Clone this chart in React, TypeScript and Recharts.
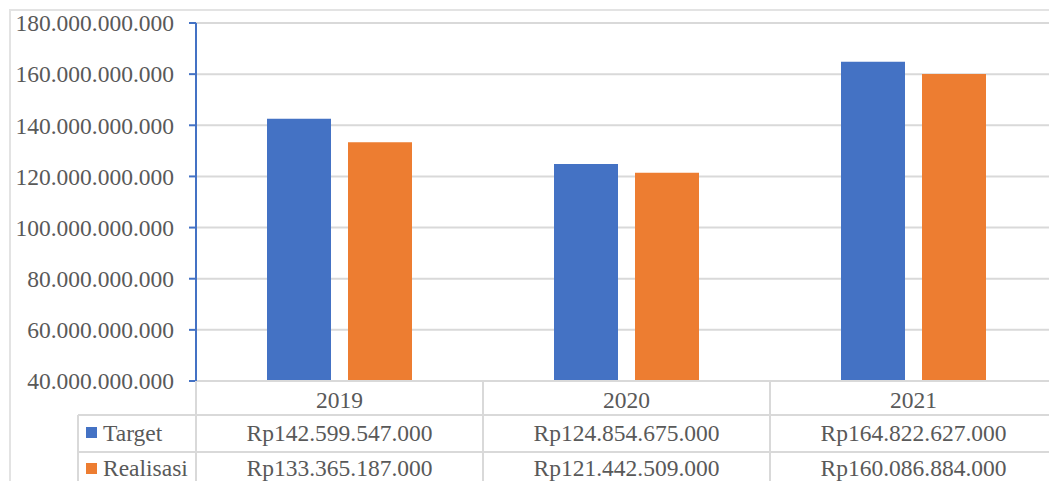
import React from "react";
import { BarChart, Bar, XAxis, YAxis, CartesianGrid } from "recharts";

const years = ["2019", "2020", "2021"];
const target = [142599547000, 124854675000, 164822627000];
const realisasi = [133365187000, 121442509000, 160086884000];
const yTicks = [40e9, 60e9, 80e9, 100e9, 120e9, 140e9, 160e9, 180e9];
const seriesNames = ["Target", "Realisasi"];

const data = years.map((y, i) => ({ year: y, target: target[i], realisasi: realisasi[i] }));

const BLUE = "#4472C4";
const ORANGE = "#ED7D31";
const TEXT = "#595959";
const GRID = "#d9d9d9";
const FONT = "Liberation Serif";
const FS = 23.5;
const textStyle = { fontFamily: FONT, fontSize: FS };

const CHART_W = 1060;
const CHART_H = 481;
const PLOT_LEFT = 196;
const PLOT_RIGHT_MARGIN = 3;
const PLOT_TOP = 23;
const XAXIS_H = 100;
const PLOT_W = CHART_W - PLOT_LEFT - PLOT_RIGHT_MARGIN;
const BAND = PLOT_W / years.length;

const fmtDots = (v: number) => Math.round(v).toString().replace(/\B(?=(\d{3})+(?!\d))/g, ".");

const TableTick = (props: any) => {
  const { x, y, payload, index } = props;
  const i = index ?? years.indexOf(payload.value);
  const left = x - BAND / 2;
  const right = x + BAND / 2;
  const row1 = y + 34;
  const row2 = y + 71;
  const bottom = y + 110;
  const vals = [target[i], realisasi[i]];
  return (
    <g>
      <text x={x} y={y + 27} textAnchor="middle" fill={TEXT} style={textStyle}>
        {payload.value}
      </text>
      <line x1={right} y1={y} x2={right} y2={bottom} stroke={GRID} strokeWidth={2} />
      <line x1={left} y1={row1} x2={right} y2={row1} stroke={GRID} strokeWidth={2} />
      <line x1={left} y1={row2} x2={right} y2={row2} stroke={GRID} strokeWidth={2} />
      <text x={x} y={row1 + 26} textAnchor="middle" fill={TEXT} style={textStyle}>
        {"Rp" + fmtDots(vals[0])}
      </text>
      <text x={x} y={row2 + 24} textAnchor="middle" fill={TEXT} style={textStyle}>
        {"Rp" + fmtDots(vals[1])}
      </text>
      {i === 0 && (
        <g>
          <line x1={left} y1={y} x2={left} y2={bottom} stroke={GRID} strokeWidth={2} />
          <line x1={left - 118} y1={row1} x2={left} y2={row1} stroke={GRID} strokeWidth={2} />
          <line x1={left - 118} y1={row2} x2={left} y2={row2} stroke={GRID} strokeWidth={2} />
          <line x1={left - 118} y1={row1} x2={left - 118} y2={bottom} stroke={GRID} strokeWidth={2} />
          <rect x={left - 110} y={row1 + 12} width={11} height={11} fill={BLUE} />
          <text x={left - 93} y={row1 + 26} fill={TEXT} style={textStyle}>
            {seriesNames[0]}
          </text>
          <rect x={left - 110} y={row2 + 11} width={11} height={11} fill={ORANGE} />
          <text x={left - 93} y={row2 + 24} fill={TEXT} style={textStyle}>
            {seriesNames[1]}
          </text>
        </g>
      )}
    </g>
  );
};

export default function App() {
  return (
    <div style={{ position: "absolute", left: 0, top: 0, width: 1049, height: 481, overflow: "hidden", background: "#fff", fontFamily: FONT }}>
      <div
        style={{
          position: "absolute",
          left: 9,
          top: 9,
          width: 1100,
          height: 600,
          borderLeft: `2px solid #e3e3e3`,
          borderTop: `2px solid #e3e3e3`,
        }}
      />
      <div style={{ position: "absolute", left: 0, top: 0 }}>
        <BarChart
          width={CHART_W}
          height={CHART_H}
          data={data}
          margin={{ top: PLOT_TOP, right: PLOT_RIGHT_MARGIN, bottom: 0, left: 10 }}
          barGap={17}
          barSize={64}
          style={{ fontFamily: FONT }}
        >
          <CartesianGrid vertical={false} stroke={GRID} strokeWidth={2} />
          <XAxis
            dataKey="year"
            height={XAXIS_H}
            interval={0}
            tickLine={false}
            tickSize={0}
            tickMargin={0}
            axisLine={{ stroke: GRID, strokeWidth: 2 }}
            tick={<TableTick />}
          />
          <YAxis
            width={186}
            domain={[40e9, 180e9]}
            ticks={yTicks}
            interval={0}
            tickFormatter={fmtDots}
            tickSize={7}
            tickMargin={15}
            axisLine={{ stroke: BLUE, strokeWidth: 2 }}
            tickLine={{ stroke: BLUE, strokeWidth: 2 }}
            tick={{ fill: TEXT, fontSize: FS, fontFamily: FONT, style: textStyle }}
          />
          <Bar dataKey="target" name={seriesNames[0]} fill={BLUE} isAnimationActive={false} />
          <Bar dataKey="realisasi" name={seriesNames[1]} fill={ORANGE} isAnimationActive={false} />
        </BarChart>
      </div>
    </div>
  );
}
